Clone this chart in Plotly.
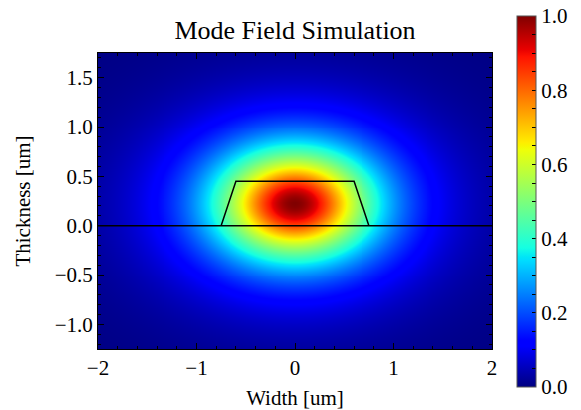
import numpy as np
import plotly.graph_objects as go

# ---- data ----
x_um = np.linspace(-2.0, 2.0, 401)          # width grid
y_um = np.linspace(-1.25, 1.75, 301)        # thickness grid
mode_center_x = 0.0
mode_center_y = 0.22
mode_scale_x = 1.0
mode_scale_y = 0.7
core_radius = 0.6
decay = 1.35

core_x = [-0.75, -0.6, 0.6, 0.75]           # waveguide outline
core_y = [0.0, 0.45, 0.45, 0.0]
substrate_x = [-2.0, 2.0]
substrate_y = [0.0, 0.0]

x_ticks = [-2, -1, 0, 1, 2]
y_ticks = [-1.0, -0.5, 0.0, 0.5, 1.0, 1.5]
cb_major = [0.0, 0.2, 0.4, 0.6, 0.8, 1.0]

# ---- field ----
X, Y = np.meshgrid(x_um, y_um)
r2 = ((X - mode_center_x) / mode_scale_x) ** 2 + ((Y - mode_center_y) / mode_scale_y) ** 2
field = np.exp(-decay * (np.sqrt(1 + r2 / core_radius ** 2) - 1))
field = field / field.max()

# ---- matplotlib jet colormap ----
red = [(0, 0), (0.35, 0), (0.66, 1), (0.89, 1), (1, 0.5)]
green = [(0, 0), (0.125, 0), (0.375, 1), (0.64, 1), (0.91, 0), (1, 0)]
blue = [(0, 0.5), (0.11, 1), (0.34, 1), (0.65, 0), (1, 0)]
stops = sorted(set([p for p, _ in red + green + blue]))
def chan(pts, s):
    return np.interp(s, [p for p, _ in pts], [v for _, v in pts])
jet = [[s, "rgb(%d,%d,%d)" % (round(255 * chan(red, s)), round(255 * chan(green, s)), round(255 * chan(blue, s)))] for s in stops]

FONT = "Liberation Serif"

cb_vals = [round(0.05 * i, 2) for i in range(21)]
cb_text = [("%.1f" % v) if any(abs(v - m) < 1e-9 for m in cb_major) else "" for v in cb_vals]

fig = go.Figure()
fig.add_trace(go.Heatmap(
    x=x_um, y=y_um, z=field, zmin=0, zmax=1, colorscale=jet,
    colorbar=dict(
        x=(517 - 98) / 394, xanchor="left", xpad=0,
        y=0.498, yanchor="middle", ypad=0,
        len=371, lenmode="pixels", thickness=19,
        outlinecolor="#555", outlinewidth=1,
        tickvals=cb_vals, ticktext=cb_text,
        ticks="inside", ticklen=4, tickcolor="black",
        tickfont=dict(family=FONT, size=21, color="black"),
    ),
))
fig.add_trace(go.Scatter(x=substrate_x, y=substrate_y, mode="lines",
                         line=dict(color="black", width=1.5), showlegend=False, hoverinfo="skip"))
fig.add_trace(go.Scatter(x=core_x, y=core_y, mode="lines",
                         line=dict(color="black", width=1.5), showlegend=False, hoverinfo="skip"))

axis_common = dict(
    showline=True, linecolor="black", linewidth=1, mirror="allticks",
    ticks="inside", ticklen=6, tickcolor="black", tickwidth=1,
    showgrid=False, zeroline=False, automargin=False,
    tickfont=dict(family=FONT, size=21, color="black"),
)
fig.update_layout(
    width=581, height=410,
    margin=dict(l=98, r=89, t=53, b=61, autoexpand=False),
    paper_bgcolor="white", plot_bgcolor="white",
    title=dict(text="Mode Field Simulation", x=0.5, xref="paper", xanchor="center",
               y=1 - 30 / 410, yref="container", yanchor="middle",
               font=dict(family=FONT, size=26, color="black")),
    xaxis=dict(axis_common, range=[-2, 2], tickvals=x_ticks,
               minor=dict(dtick=0.2, ticks="inside", ticklen=3, tickcolor="black"),
               title=dict(text="Width [um]", standoff=12, font=dict(family=FONT, size=21, color="black"))),
    yaxis=dict(axis_common, range=[-1.25, 1.75], tickvals=y_ticks, tickformat=".1f",
               minor=dict(dtick=0.1, ticks="inside", ticklen=3, tickcolor="black"),
               title=dict(text="Thickness [um]", standoff=18, font=dict(family=FONT, size=21, color="black"))),
)
fig.write_html("out.html")
